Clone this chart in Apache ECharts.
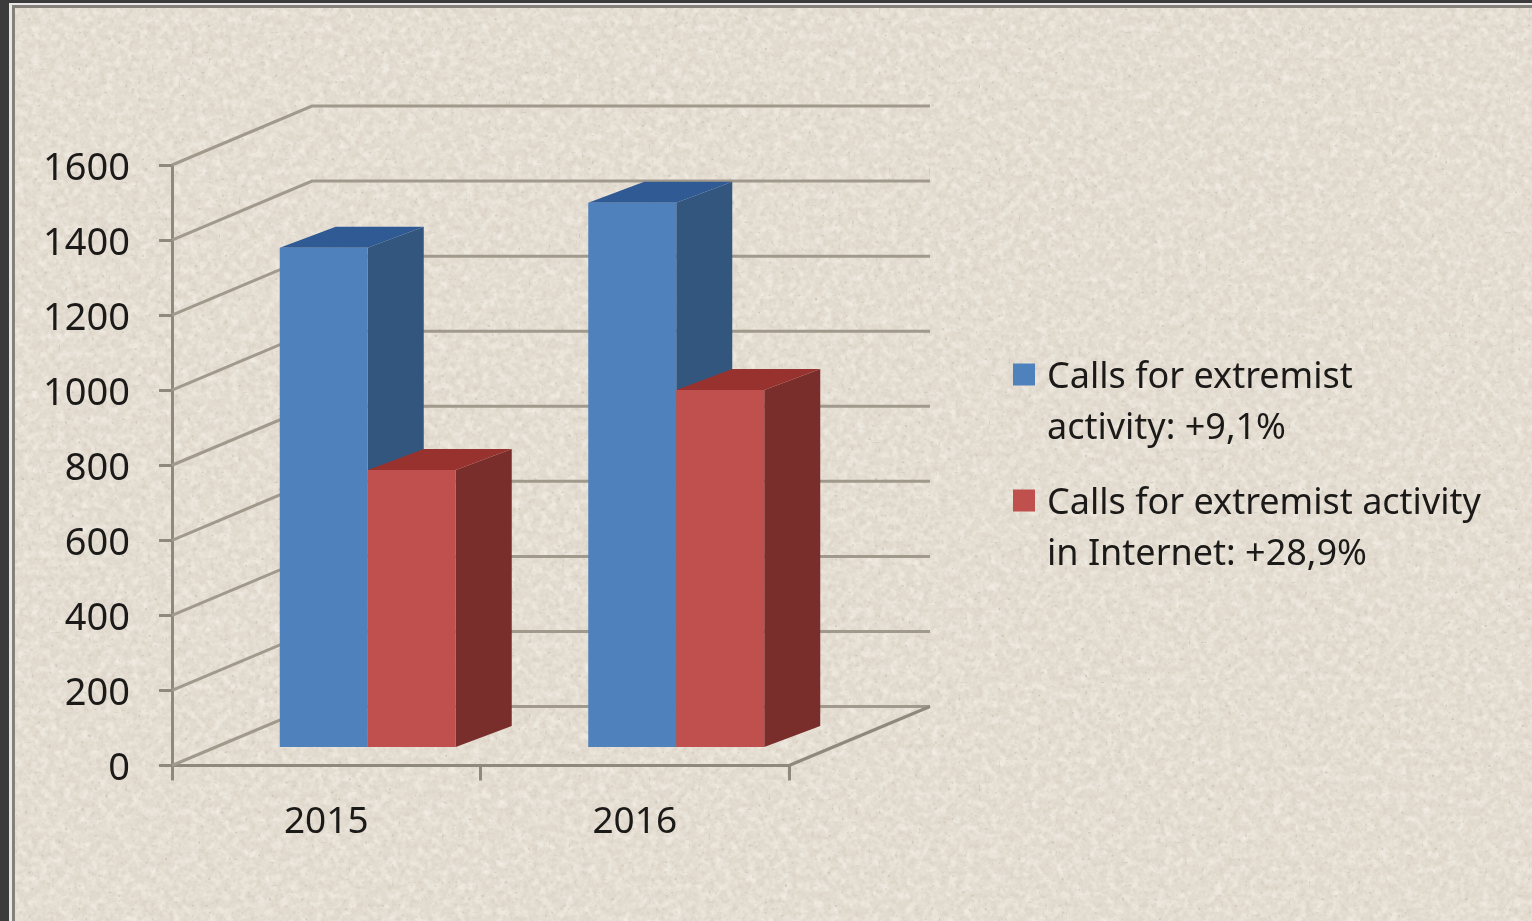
<!DOCTYPE html>
<html>
<head>
<meta charset="utf-8">
<title>Calls for extremist activity</title>
<script src="https://cdn.jsdelivr.net/npm/echarts@6/dist/echarts.min.js"></script>
<style>
  html, body { margin: 0; height: 100%; background: #3b3b3b; overflow: hidden; }
  #frame {
    position: absolute; left: 9px; top: 3px; right: -10px; bottom: -10px;
    border-left: 3px solid #e8e8e8; border-top: 2px solid #e8e8e8;
  }
  #paper {
    position: absolute; left: 0; top: 0; right: 0; bottom: 0;
    border-left: 3px solid #85807a; border-top: 3px solid #85807a;
    background-color: #e3dbcf;
    background-image: url("data:image/svg+xml,%3Csvg xmlns='http://www.w3.org/2000/svg' width='1532' height='921'%3E%3Cfilter id='a'%3E%3CfeTurbulence type='fractalNoise' baseFrequency='0.22' numOctaves='2' seed='7'/%3E%3CfeColorMatrix values='0 0 0 0 0.55 0 0 0 0 0.5 0 0 0 0 0.42 1.6 0 0 0 -0.72'/%3E%3C/filter%3E%3Cfilter id='b'%3E%3CfeTurbulence type='fractalNoise' baseFrequency='0.12' numOctaves='2' seed='21'/%3E%3CfeColorMatrix values='0 0 0 0 1 0 0 0 0 0.98 0 0 0 0 0.94 1.8 0 0 0 -0.7'/%3E%3C/filter%3E%3Cfilter id='c'%3E%3CfeTurbulence type='fractalNoise' baseFrequency='0.3' numOctaves='1' seed='4'/%3E%3CfeColorMatrix values='0 0 0 0 0.5 0 0 0 0 0.46 0 0 0 0 0.4 9 0 0 0 -6.1'/%3E%3C/filter%3E%3Crect width='1532' height='921' filter='url(%23b)' opacity='.6'/%3E%3Crect width='1532' height='921' filter='url(%23a)' opacity='.5'/%3E%3Crect width='1532' height='921' filter='url(%23c)' opacity='.5'/%3E%3C/svg%3E");
  }
  #chart { position: absolute; left: 0; top: 0; width: 1532px; height: 921px; }
</style>
</head>
<body>
<div id="frame"><div id="paper"></div></div>
<div id="chart"></div>
<script>
  const years = ['2015', '2016']
  const yTicks = [0, 200, 400, 600, 800, 1000, 1200, 1400, 1600]
  const callsTotal = [1330, 1450]
  const callsInternet = [738, 951]
  const nameTotal = 'Calls for extremist\nactivity: +9,1%'
  const nameInternet = 'Calls for extremist activity\nin Internet: +28,9%'

  const fontName = 'Noto Sans'
  const gridColor = '#a1998c'
  const axisColor = '#8f887c'

  // pseudo 3d offsets, in pixels
  const wallDx = 140
  const wallDy = -59
  const wallRight = 930
  const floorDy = -18.5
  const barWidth = 88
  const barDx = 56
  const barDy = -21

  function poly(points, color) {
    return { type: 'polygon', shape: { points }, style: { fill: color } }
  }

  function renderWall(params, api) {
    const y = api.coord([0, api.value(1)])[1]
    const left = params.coordSys.x
    const right = left + params.coordSys.width
    const children = [{
      type: 'polyline',
      shape: { points: [[left, y], [left + wallDx, y + wallDy], [wallRight, y + wallDy]] },
      style: { stroke: gridColor, lineWidth: 3, fill: null }
    }]
    if (api.value(1) === 0) {
      children.push({
        type: 'line',
        shape: { x1: right, y1: y, x2: wallRight, y2: y + wallDy },
        style: { stroke: axisColor, lineWidth: 3 }
      })
    }
    return { type: 'group', children }
  }

  function barRenderer(slot, front, side, top) {
    return function (params, api) {
      const [cx, yTop] = api.coord([api.value(0), api.value(1)])
      const yBase = api.coord([api.value(0), 0])[1]
      const x0 = cx - 46.5 + slot * barWidth
      const x1 = x0 + barWidth
      const y0 = yTop + floorDy
      const y1 = yBase + floorDy
      return {
        type: 'group',
        children: [
          poly([[x1, y0], [x1 + barDx, y0 + barDy], [x1 + barDx, y1 + barDy], [x1, y1]], side),
          poly([[x0, y0], [x0 + barDx, y0 + barDy], [x1 + barDx, y0 + barDy], [x1, y0]], top),
          poly([[x0, y0], [x1, y0], [x1, y1], [x0, y1]], front)
        ]
      }
    }
  }

  const chart = echarts.init(document.getElementById('chart'))
  chart.setOption({
    animation: false,
    backgroundColor: 'transparent',
    textStyle: { fontFamily: fontName },
    grid: { left: 172, top: 165, width: 617, height: 600.5 },
    legend: {
      data: [nameTotal, nameInternet],
      orient: 'vertical',
      left: 1013,
      top: 352,
      padding: 0,
      itemWidth: 29,
      itemHeight: 79,
      itemGap: 24,
      icon: 'path://M0 0H22V22H0Z M0 79L29 79',
      selectedMode: false,
      textStyle: { fontFamily: fontName, fontSize: 36, lineHeight: 51, color: '#1b1a18' }
    },
    xAxis: {
      type: 'category',
      data: years,
      axisLine: { lineStyle: { color: axisColor, width: 3 } },
      axisTick: { show: true, length: 15, lineStyle: { color: axisColor, width: 3 } },
      axisLabel: { margin: 38, fontFamily: fontName, fontSize: 37, color: '#1b1a18' }
    },
    yAxis: {
      type: 'value',
      min: 0,
      max: 1600,
      interval: 200,
      splitLine: { show: false },
      axisLine: { show: true, lineStyle: { color: axisColor, width: 3 } },
      axisTick: { show: true, length: 13, lineStyle: { color: axisColor, width: 3 } },
      axisLabel: {
        margin: 42,
        fontFamily: fontName,
        fontSize: 38,
        color: '#1b1a18',
        verticalAlign: 'top',
        lineHeight: 8,
        formatter: v => String(v)
      }
    },
    series: [
      {
        type: 'custom',
        name: 'walls',
        renderItem: renderWall,
        data: yTicks.map(v => [0, v]),
        z: 1,
        silent: true
      },
      {
        type: 'custom',
        name: nameTotal,
        renderItem: barRenderer(0, '#4f81bd', '#33567f', '#2f5a94'),
        itemStyle: { color: '#4f81bd' },
        data: callsTotal.map((v, i) => [i, v]),
        z: 2
      },
      {
        type: 'custom',
        name: nameInternet,
        renderItem: barRenderer(1, '#c0504d', '#7a2e2c', '#97322e'),
        itemStyle: { color: '#c0504d' },
        data: callsInternet.map((v, i) => [i, v]),
        z: 3
      }
    ]
  })
</script>
</body>
</html>
